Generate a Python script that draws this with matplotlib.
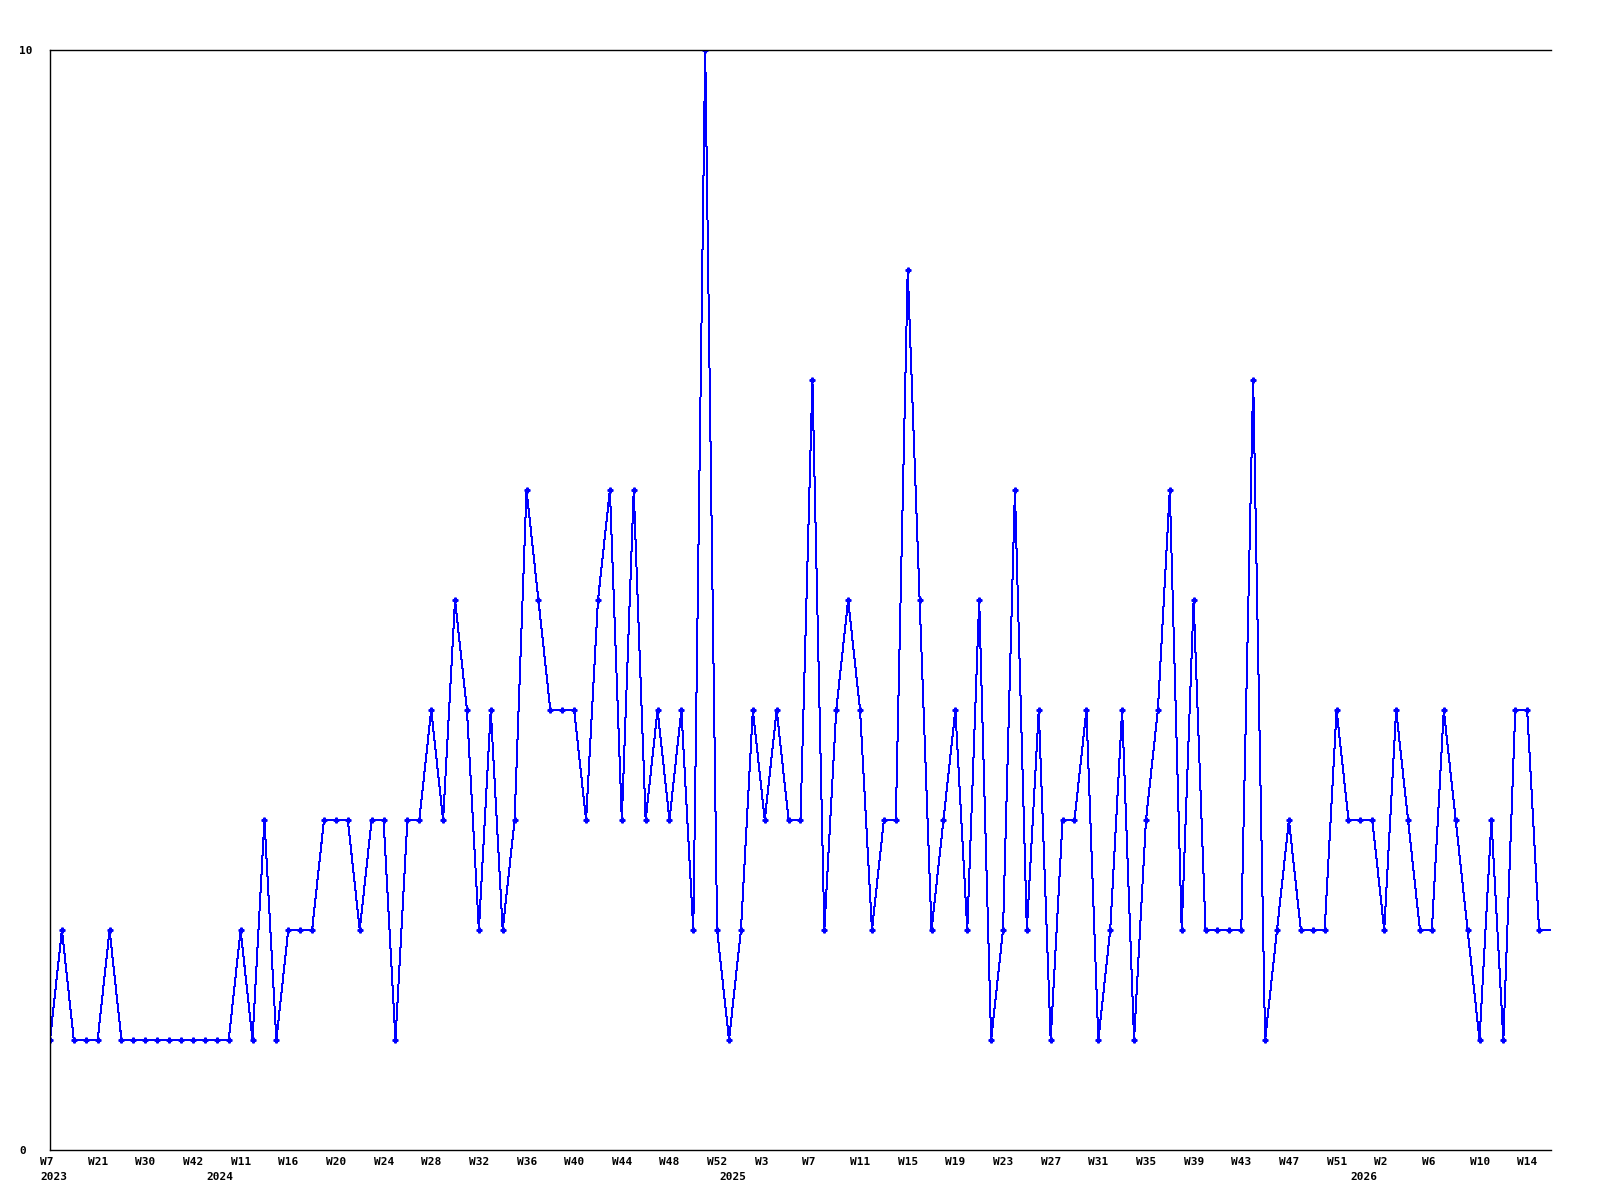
import matplotlib
matplotlib.use("Agg")
import matplotlib.pyplot as plt
from matplotlib.transforms import ScaledTranslation

# weekly counts, one value per point (last one is the open end of the line)
values = [
    1, 2, 1, 1, 1, 2, 1, 1, 1, 1, 1, 1, 1, 1, 1, 1,
    2, 1, 3, 1, 2, 2, 2, 3, 3, 3, 2, 3, 3, 1, 3, 3,
    4, 3, 5, 4, 2, 4, 2, 3, 6, 5, 4, 4, 4, 3, 5, 6,
    3, 6, 3, 4, 3, 4, 2, 10, 2, 1, 2, 4, 3, 4, 3, 3,
    7, 2, 4, 5, 4, 2, 3, 3, 8, 5, 2, 3, 4, 2, 5, 1,
    2, 6, 2, 4, 1, 3, 3, 4, 1, 2, 4, 1, 3, 4, 6, 2,
    5, 2, 2, 2, 2, 7, 1, 2, 3, 2, 2, 2, 4, 3, 3, 3,
    2, 4, 3, 2, 2, 4, 3, 2, 1, 3, 1, 4, 4, 2, 2,
]
week_labels = [
    "W7", "W21", "W30", "W42", "W11", "W16", "W20", "W24",
    "W28", "W32", "W36", "W40", "W44", "W48", "W52", "W3",
    "W7", "W11", "W15", "W19", "W23", "W27", "W31", "W35",
    "W39", "W43", "W47", "W51", "W2", "W6", "W10", "W14",
]
week_label_step = 4
year_labels = ["2023", "2024", "2025", "2026"]
year_positions = [0, 14, 57, 110]

fig = plt.figure(figsize=(16, 12), dpi=100)
ax = fig.add_axes([50 / 1600, 50 / 1200, 1501 / 1600, 1100 / 1200])

xs = list(range(len(values)))
ax.plot(xs, values, color="#0000ff", linewidth=0.72, antialiased=False)
ax.plot(xs[:-1], values[:-1], linestyle="none", color="#0000ff",
        marker="P", markersize=3.5)

ax.set_xlim(0, len(values) - 1)
ax.set_ylim(0, 10)

for side in ["top", "bottom", "left"]:
    ax.spines[side].set_linewidth(1)
    ax.spines[side].set_color("black")
ax.spines["right"].set_visible(False)

font = dict(family="DejaVu Sans Mono", weight="bold", size=8)

ax.set_yticks([0, 10])
ax.set_yticklabels(["0", "10"], **font)
ax.tick_params(axis="y", length=0, pad=22)
for lab in ax.get_yticklabels():
    lab.set_horizontalalignment("left")

ax.xaxis.remove_overlapping_locs = False
ax.set_xticks(range(0, week_label_step * len(week_labels), week_label_step))
ax.set_xticklabels(week_labels, **font)
ax.set_xticks(year_positions, minor=True)
ax.set_xticklabels(year_labels, minor=True, **font)
ax.tick_params(axis="x", which="major", length=0, pad=5)
ax.tick_params(axis="x", which="minor", length=0, pad=16)

shift = ScaledTranslation(-10 / 100, 0, fig.dpi_scale_trans)
for lab in ax.get_xticklabels() + ax.get_xticklabels(minor=True):
    lab.set_horizontalalignment("left")
    lab.set_transform(lab.get_transform() + shift)

fig.savefig("out.png", dpi=100)
